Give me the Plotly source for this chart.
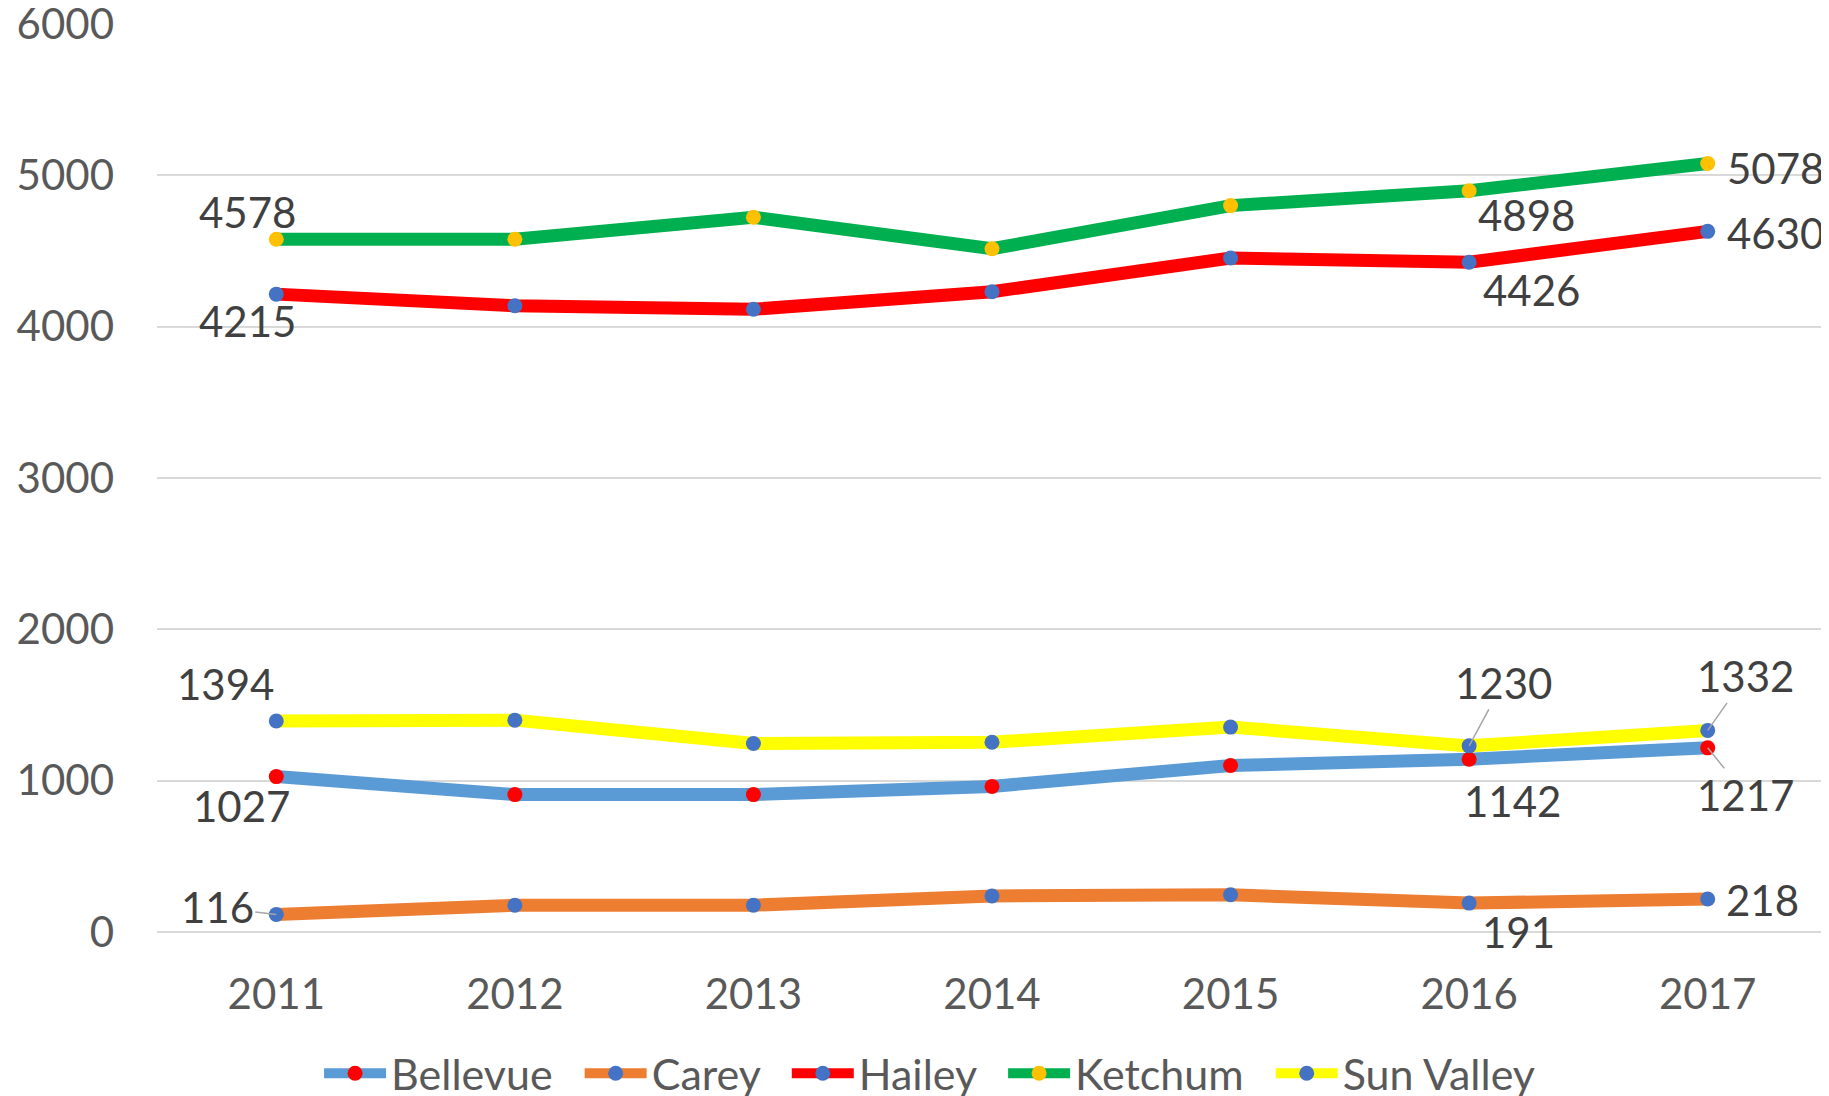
import plotly.graph_objects as go

years = ["2011", "2012", "2013", "2014", "2015", "2016", "2017"]
bellevue = [1027, 908, 908, 962, 1100, 1142, 1217]
carey = [116, 177, 177, 238, 246, 191, 218]
hailey = [4215, 4138, 4115, 4231, 4454, 4426, 4630]
ketchum = [4578, 4578, 4723, 4515, 4800, 4898, 5078]
sun_valley = [1394, 1400, 1246, 1254, 1354, 1230, 1332]
y_ticks = [0, 1000, 2000, 3000, 4000, 5000, 6000]

series = [
    ("Bellevue", bellevue, "#5B9BD5", "#FF0000"),
    ("Carey", carey, "#ED7D31", "#4472C4"),
    ("Hailey", hailey, "#FF0000", "#4472C4"),
    ("Ketchum", ketchum, "#00B050", "#FFC000"),
    ("Sun Valley", sun_valley, "#FFFF00", "#4472C4"),
]

FONT = "Lato, 'Open Sans', sans-serif"
PAD = "\u00a0\u00a0"
fig = go.Figure()
for name, vals, lc, mc in series:
    fig.add_trace(go.Scatter(
        x=years, y=vals, name=name + PAD, mode="lines+markers",
        line=dict(color=lc, width=13),
        marker=dict(color=mc, size=15, line=dict(width=0)),
        cliponaxis=False,
    ))

# label placement: (series values, index, dx, dy, leader)
labels = [
    (ketchum, 0, -29, -27, False), (ketchum, 5, 57, 24, False), (ketchum, 6, 68, 4, False),
    (hailey, 0, -29, 27, False), (hailey, 5, 62, 28, False), (hailey, 6, 68, 2, False),
    (sun_valley, 0, -51, -37, False), (sun_valley, 5, 34, -63, True), (sun_valley, 6, 38, -54, True),
    (bellevue, 0, -35, 29, False), (bellevue, 5, 43, 42, False), (bellevue, 6, 38, 47, True),
    (carey, 0, -59, -7, True), (carey, 5, 49, 29, False), (carey, 6, 55, 1, False),
]
for vals, i, dx, dy, leader in labels:
    if leader:
        fig.add_annotation(
            x=i, y=vals[i], text=str(vals[i]), showarrow=True,
            arrowhead=0, arrowwidth=1.5, arrowcolor="#A6A6A6",
            ax=dx, ay=dy, font=dict(family=FONT, size=42, color="#404040"),
        )
    else:
        fig.add_annotation(
            x=i, y=vals[i], text=str(vals[i]), showarrow=False,
            xshift=dx, yshift=-dy, font=dict(family=FONT, size=42, color="#404040"),
        )

fig.update_layout(
    width=1829, height=1096,
    margin=dict(l=149, r=10, t=16, b=172, autoexpand=False),
    paper_bgcolor="white", plot_bgcolor="white",
    font=dict(family=FONT, size=42, color="#595959"),
    showlegend=True,
    legend=dict(orientation="h", xref="container", yref="container",
                x=0.5096, xanchor="center", y=0.028, yanchor="middle",
                font=dict(family=FONT, size=43, color="#595959"), itemwidth=62,
                tracegroupgap=0, traceorder="normal"),
    xaxis=dict(type="category", range=[-0.5, 6.5], showgrid=False, showline=False,
               zeroline=False, ticks="", ticklabelstandoff=34, automargin=False,
               tickfont=dict(size=42, color="#595959")),
    yaxis=dict(range=[0, 6000], tickvals=y_ticks, showgrid=True, gridcolor="#D9D9D9",
               gridwidth=1.5, zeroline=True, zerolinecolor="#D9D9D9", zerolinewidth=1.5,
               showline=False, ticks="", ticklabelstandoff=42, automargin=False,
               ticklabeloverflow="allow",
               tickfont=dict(size=42, color="#595959")),
)

fig.write_html("out.html")
